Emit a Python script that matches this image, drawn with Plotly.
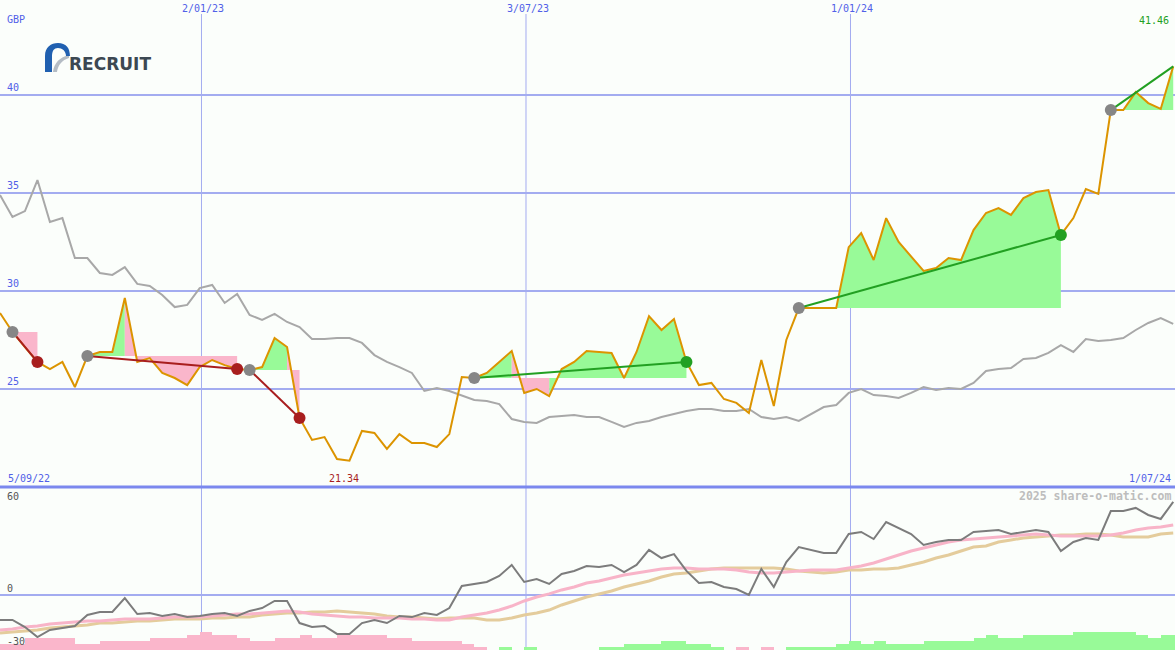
import plotly.graph_objects as go
from datetime import datetime, timedelta

W, H = 1175, 650

# ---------------- data ----------------
START = datetime(2022, 9, 11)
N_WEEKS = 95
dates = [START + timedelta(days=7 * k) for k in range(N_WEEKS)]

price = [28.88, 27.91, 27.14, 26.38, 26.02, 26.38, 25.10, 26.68, 26.89, 26.89,
         29.64, 26.38, 26.58, 25.82, 25.56, 25.20, 26.12, 26.48, 26.22, 26.02,
         25.97, 26.12, 27.60, 27.14, 23.52, 22.40, 22.55, 21.43, 21.34, 22.86,
         22.76, 21.94, 22.70, 22.24, 22.24, 22.04, 22.70, 25.61, 25.56, 25.82,
         26.38, 26.94, 24.80, 25.00, 24.64, 26.02, 26.38, 26.94, 26.89, 26.84,
         25.56, 26.89, 28.72, 28.01, 28.57, 26.38, 25.20, 25.31, 24.49, 24.29,
         23.78, 26.48, 24.13, 27.50, 29.13, 29.13, 29.13, 29.13, 32.24, 32.96,
         31.58, 33.72, 32.50, 31.73, 31.02, 31.17, 31.68, 31.58, 33.11, 33.98,
         34.23, 33.88, 34.74, 35.05, 35.15, 32.86, 33.72, 35.20, 34.95, 39.23,
         39.23, 40.15, 39.59, 39.29, 41.46]

compare = [34.90, 33.78, 34.08, 35.66, 33.52, 33.72, 31.68, 31.68, 30.92, 30.82,
           31.22, 30.36, 30.26, 29.80, 29.18, 29.29, 30.15, 30.31, 29.39, 29.85,
           28.78, 28.52, 28.83, 28.42, 28.16, 27.55, 27.55, 27.60, 27.60, 27.35,
           26.73, 26.38, 26.12, 25.82, 24.90, 25.05, 24.90, 24.69, 24.44, 24.39,
           24.23, 23.47, 23.32, 23.27, 23.57, 23.62, 23.67, 23.57, 23.57, 23.32,
           23.06, 23.27, 23.37, 23.57, 23.72, 23.88, 23.98, 23.98, 23.88, 23.88,
           23.98, 23.57, 23.47, 23.57, 23.37, 23.72, 24.08, 24.18, 24.80, 25.00,
           24.69, 24.64, 24.54, 24.80, 25.10, 24.95, 25.05, 25.00, 25.31, 25.92,
           26.02, 26.07, 26.53, 26.58, 26.84, 27.24, 26.89, 27.55, 27.45, 27.50,
           27.60, 28.01, 28.37, 28.62, 28.32]

oscillator = [-16.3, -16.3, -20.9, -27.4, -22.8, -21.5, -20.2, -13.0, -11.1, -11.1,
              -2.0, -12.4, -11.7, -13.7, -12.4, -14.4, -13.7, -12.4, -11.7, -13.7,
              -10.4, -8.5, -3.9, -3.9, -18.3, -20.9, -20.2, -25.4, -25.4, -18.3,
              -16.3, -18.3, -13.7, -14.4, -11.7, -13.0, -8.5, 5.9, 7.2, 8.5,
              12.4, 19.6, 8.5, 10.4, 7.2, 13.7, 15.7, 18.9, 18.3, 19.6,
              15.0, 19.6, 29.4, 24.1, 26.7, 15.7, 7.8, 8.5, 5.2, 3.9,
              0.0, 17.0, 5.2, 21.5, 31.3, 29.4, 27.4, 27.4, 39.8, 41.1,
              36.5, 47.6, 43.7, 39.8, 32.6, 34.6, 35.9, 35.9, 41.1, 41.7,
              42.4, 39.8, 41.1, 42.4, 41.1, 28.7, 34.6, 37.2, 35.9, 54.8,
              54.8, 56.8, 52.2, 49.6, 60.7]

ma_fast = [-22.8, -22.2, -20.9, -20.2, -18.9, -18.3, -17.6, -17.0, -17.0, -16.3,
           -15.7, -15.7, -15.7, -15.0, -14.4, -14.4, -14.4, -13.7, -13.0, -12.4,
           -12.4, -11.7, -11.1, -10.4, -11.1, -12.4, -13.0, -13.7, -14.4, -14.4,
           -15.0, -15.0, -15.0, -15.7, -15.7, -16.3, -16.3, -14.4, -13.0, -11.7,
           -9.8, -7.2, -3.9, -1.3, 0.7, 3.3, 5.2, 7.8, 9.1, 11.1,
           13.0, 14.4, 15.7, 17.0, 17.6, 17.6, 17.0, 17.0, 17.0, 16.3,
           15.0, 14.4, 14.4, 15.0, 15.7, 16.3, 16.3, 16.3, 17.6, 18.9,
           20.9, 23.5, 26.1, 28.7, 30.7, 32.6, 34.6, 35.9, 36.5, 37.2,
           37.8, 38.5, 39.1, 39.8, 39.1, 38.5, 38.5, 38.5, 38.5, 39.1,
           40.4, 42.4, 43.7, 44.4, 45.7]

ma_slow = [-24.8, -24.1, -23.5, -22.8, -21.5, -20.9, -20.2, -19.6, -18.3, -18.3,
           -17.6, -17.0, -17.0, -16.3, -15.7, -15.7, -15.7, -15.0, -15.0, -14.4,
           -14.4, -13.0, -12.4, -11.7, -11.7, -11.1, -11.1, -10.4, -11.1, -11.7,
           -12.4, -13.7, -14.4, -14.4, -15.0, -15.7, -15.0, -15.0, -15.0, -16.3,
           -16.3, -15.0, -13.0, -11.7, -9.8, -6.5, -3.9, -1.3, 0.7, 2.6,
           5.2, 7.2, 9.1, 11.7, 13.7, 14.4, 15.7, 17.0, 17.6, 17.6,
           17.6, 17.6, 17.6, 17.0, 15.7, 15.0, 14.4, 15.0, 16.3, 16.3,
           17.0, 17.0, 17.6, 19.6, 21.5, 24.1, 26.1, 28.7, 31.3, 32.0,
           34.6, 35.9, 37.2, 37.8, 38.5, 39.1, 39.1, 39.8, 39.8, 39.1,
           37.8, 37.8, 37.8, 39.8, 40.4]

histogram = [-2, -2, -4, -4, -4, -4, -2, -2, -3, -3,
             -3, -3, -4, -4, -4, -5, -6, -5, -5, -4,
             -3, -3, -4, -4, -5, -4, -4, -5, -5, -5,
             -5, -4, -4, -3, -3, -3, -3, -2, -1, 0,
             1, 0, 1, 0, 0, 0, 0, 0, 1, 1,
             2, 2, 2, 3, 3, 2, 2, 1, 0, -1,
             0, -1, 0, 1, 1, 1, 1, 2, 3, 2,
             3, 2, 2, 2, 3, 3, 3, 3, 4, 5,
             4, 4, 5, 5, 5, 5, 6, 6, 6, 6,
             6, 5, 4, 5, 5]

# trades: (start week index, end week index, still open)
trades = [(1, 3, False), (7, 19, False), (20, 24, False),
          (38, 55, False), (64, 85, False), (89, 94, True)]

top_ticks = [25, 30, 35, 40]
low_ticks = [60, 0, -30]
date_ticks = [datetime(2023, 1, 2), datetime(2023, 7, 3), datetime(2024, 1, 1)]
date_tick_text = ["2/01/23", "3/07/23", "1/01/24"]
period_labels = ["5/09/22", "1/07/24"]
currency = "GBP"
watermark = "2025 share-o-matic.com"
company = "RECRUIT"

# ---------------- colours ----------------
BG = "#fbfefb"
GRID = "#a3acf0"
DIVIDER = "#7b88ee"
LABEL_BLUE = "#5060e8"
ORANGE = "#dc9400"
GREY_CMP = "#a8a8a8"
GREEN_FILL = "#98fa98"
PINK_FILL = "#fab6cb"
WIN = "#22a022"
LOSS = "#a81e1e"
START_DOT = "#868686"

def px(x):
    return x / W

def py(y):
    return 1 - y / H

fig = go.Figure()

# ---- trade fills (per segment colour by end point vs entry level) ----
fills = {True: ([], []), False: ([], [])}
for s, e, _ in trades:
    base = price[s]
    k = s
    while k < e:
        up = price[k + 1] >= base
        j = k
        while j + 1 <= e - 1 and (price[j + 2] >= base) == up:
            j += 1
        xs = [dates[k]] + [dates[i] for i in range(k, j + 2)] + [dates[j + 1], dates[k], None]
        ys = [base] + [price[i] for i in range(k, j + 2)] + [base, base, None]
        fills[up][0].extend(xs)
        fills[up][1].extend(ys)
        k = j + 1

for up, col in ((True, GREEN_FILL), (False, PINK_FILL)):
    fig.add_trace(go.Scatter(x=fills[up][0], y=fills[up][1], mode="lines",
                             fill="toself", fillcolor=col, line=dict(width=0),
                             xaxis="x", yaxis="y", hoverinfo="skip"))

# comparison and price lines
fig.add_trace(go.Scatter(x=dates, y=compare, mode="lines",
                         line=dict(color=GREY_CMP, width=2), xaxis="x", yaxis="y"))
fig.add_trace(go.Scatter(x=dates, y=price, mode="lines",
                         line=dict(color=ORANGE, width=2), xaxis="x", yaxis="y"))

# trade lines and markers
for s, e, is_open in trades:
    col = WIN if price[e] >= price[s] else LOSS
    fig.add_trace(go.Scatter(x=[dates[s], dates[e]], y=[price[s], price[e]], mode="lines",
                             line=dict(color=col, width=2), xaxis="x", yaxis="y"))
for s, e, is_open in trades:
    col = WIN if price[e] >= price[s] else LOSS
    fig.add_trace(go.Scatter(x=[dates[s]], y=[price[s]], mode="markers",
                             marker=dict(color=START_DOT, size=12, line=dict(width=0)),
                             xaxis="x", yaxis="y"))
    if not is_open:
        fig.add_trace(go.Scatter(x=[dates[e]], y=[price[e]], mode="markers",
                                 marker=dict(color=col, size=12, line=dict(width=0)),
                                 xaxis="x", yaxis="y"))

# ---- lower panel ----
bar_x = [d + timedelta(days=3.5) for d in dates]
fig.add_trace(go.Bar(x=bar_x, y=[abs(v) for v in histogram],
                     width=[7 * 86400000] * len(dates),
                     marker=dict(color=[GREEN_FILL if v > 0 else PINK_FILL for v in histogram],
                                 line=dict(width=0)),
                     xaxis="x", yaxis="y3"))
fig.add_trace(go.Scatter(x=dates, y=ma_slow, mode="lines",
                         line=dict(color="#e4cc9c", width=3), xaxis="x", yaxis="y2"))
fig.add_trace(go.Scatter(x=dates, y=ma_fast, mode="lines",
                         line=dict(color="#f8b4c8", width=3), xaxis="x", yaxis="y2"))
fig.add_trace(go.Scatter(x=dates, y=oscillator, mode="lines",
                         line=dict(color="#7c7c7c", width=2), xaxis="x", yaxis="y2"))

# ---------------- layout ----------------
split = 163 / H
shapes = []
for d in date_ticks:
    shapes.append(dict(type="line", xref="x", yref="paper", x0=d, x1=d, y0=0, y1=py(14),
                       line=dict(color=GRID, width=1), layer="below"))
for t in top_ticks:
    shapes.append(dict(type="line", xref="paper", yref="y", x0=0, x1=1, y0=t, y1=t,
                       line=dict(color=GRID, width=2), layer="below"))
shapes.append(dict(type="line", xref="paper", yref="y2", x0=0, x1=1, y0=0, y1=0,
                   line=dict(color=GRID, width=2), layer="below"))
shapes.append(dict(type="line", xref="paper", yref="paper", x0=0, x1=1, y0=split, y1=split,
                   line=dict(color=DIVIDER, width=3), layer="above"))

# logo arc
def path(points_cmds):
    out = []
    for item in points_cmds:
        if isinstance(item, str):
            out.append(item)
        else:
            out.append(f"{px(item[0]):.5f},{py(item[1]):.5f}")
    return " ".join(out)

arc = path(["M", (45, 72), "L", (45, 56), "C", (45, 47), (51, 43), (58, 43),
            "C", (66, 43), (70, 48), (70, 56), "L", (66, 56), "C", (66, 51), (62, 48), (58, 48),
            "C", (54, 48), (52, 51), (52, 56), "L", (52, 72), "Z"])
swoosh = path(["M", (53, 72), "C", (54, 63), (60, 57), (69, 55), "L", (69, 58),
               "C", (62, 60), (58, 65), (57, 72), "Z"])
shapes.append(dict(type="path", xref="paper", yref="paper", path=swoosh,
                   fillcolor="#b4bcc4", line=dict(width=0), layer="above"))
shapes.append(dict(type="path", xref="paper", yref="paper", path=arc,
                   fillcolor="#2060b0", line=dict(width=0), layer="above"))

MONO = "DejaVu Sans Mono"
ann = []
def label(text, x, y, color, anchor="left", size=10, xref="paper", bold=False):
    ann.append(dict(text=f"<b>{text}</b>" if bold else text, x=x, y=py(y), xref=xref, yref="paper",
                    xanchor=anchor, yanchor="middle", showarrow=False,
                    font=dict(family=MONO, size=size, color=color)))

label(currency, px(5), 19, LABEL_BLUE)
for t in top_ticks:
    ann.append(dict(text=str(t), x=px(5), y=t, xref="paper", yref="y", xanchor="left",
                    yanchor="bottom", showarrow=False,
                    font=dict(family=MONO, size=10, color=LABEL_BLUE)))
for d, txt in zip(date_ticks, date_tick_text):
    label(txt, d + timedelta(days=1), 9, LABEL_BLUE, anchor="center", xref="x")
label(period_labels[0], px(6), 478, LABEL_BLUE)
label(period_labels[1], px(1173), 478, LABEL_BLUE, anchor="right")
for t, yy in zip(low_ticks, [496, 588, 641]):
    label(str(t), px(5), yy, "#555555")
kmin = price.index(min(price))
label(f"{min(price):.2f}", dates[kmin] - timedelta(days=3), 478, LOSS, anchor="center", xref="x")
label(f"{max(price):.2f}", px(1171), 21, WIN, anchor="right")
label(watermark, px(1173), 496, "#bdbdbd", anchor="right", size=11.5, bold=True)
ann.append(dict(text=f"<b>{company}</b>", x=px(67), y=py(64), xref="paper", yref="paper",
                xanchor="left", yanchor="middle", showarrow=False,
                font=dict(family="DejaVu Sans", size=17, color="#3c4852")))

fig.update_layout(
    width=W, height=H, margin=dict(l=0, r=0, t=0, b=0),
    paper_bgcolor=BG, plot_bgcolor=BG, showlegend=False, hovermode=False,
    bargap=0,
    xaxis=dict(range=[START, datetime(2024, 7, 1)], visible=False, domain=[0, 1],
               anchor="y2"),
    yaxis=dict(range=[20, 20 + 487 / 19.6], domain=[split, 1], visible=False, anchor="x"),
    yaxis2=dict(range=[-55 / 1.533, 108 / 1.533], domain=[0, split], visible=False, anchor="x"),
    yaxis3=dict(range=[0, 163 / 3], overlaying="y2", visible=False, anchor="x"),
    shapes=shapes, annotations=ann,
)

fig.write_html("out.html", config={"displayModeBar": False},
               post_script="document.body.style.margin='0';document.body.style.overflow='hidden';")
